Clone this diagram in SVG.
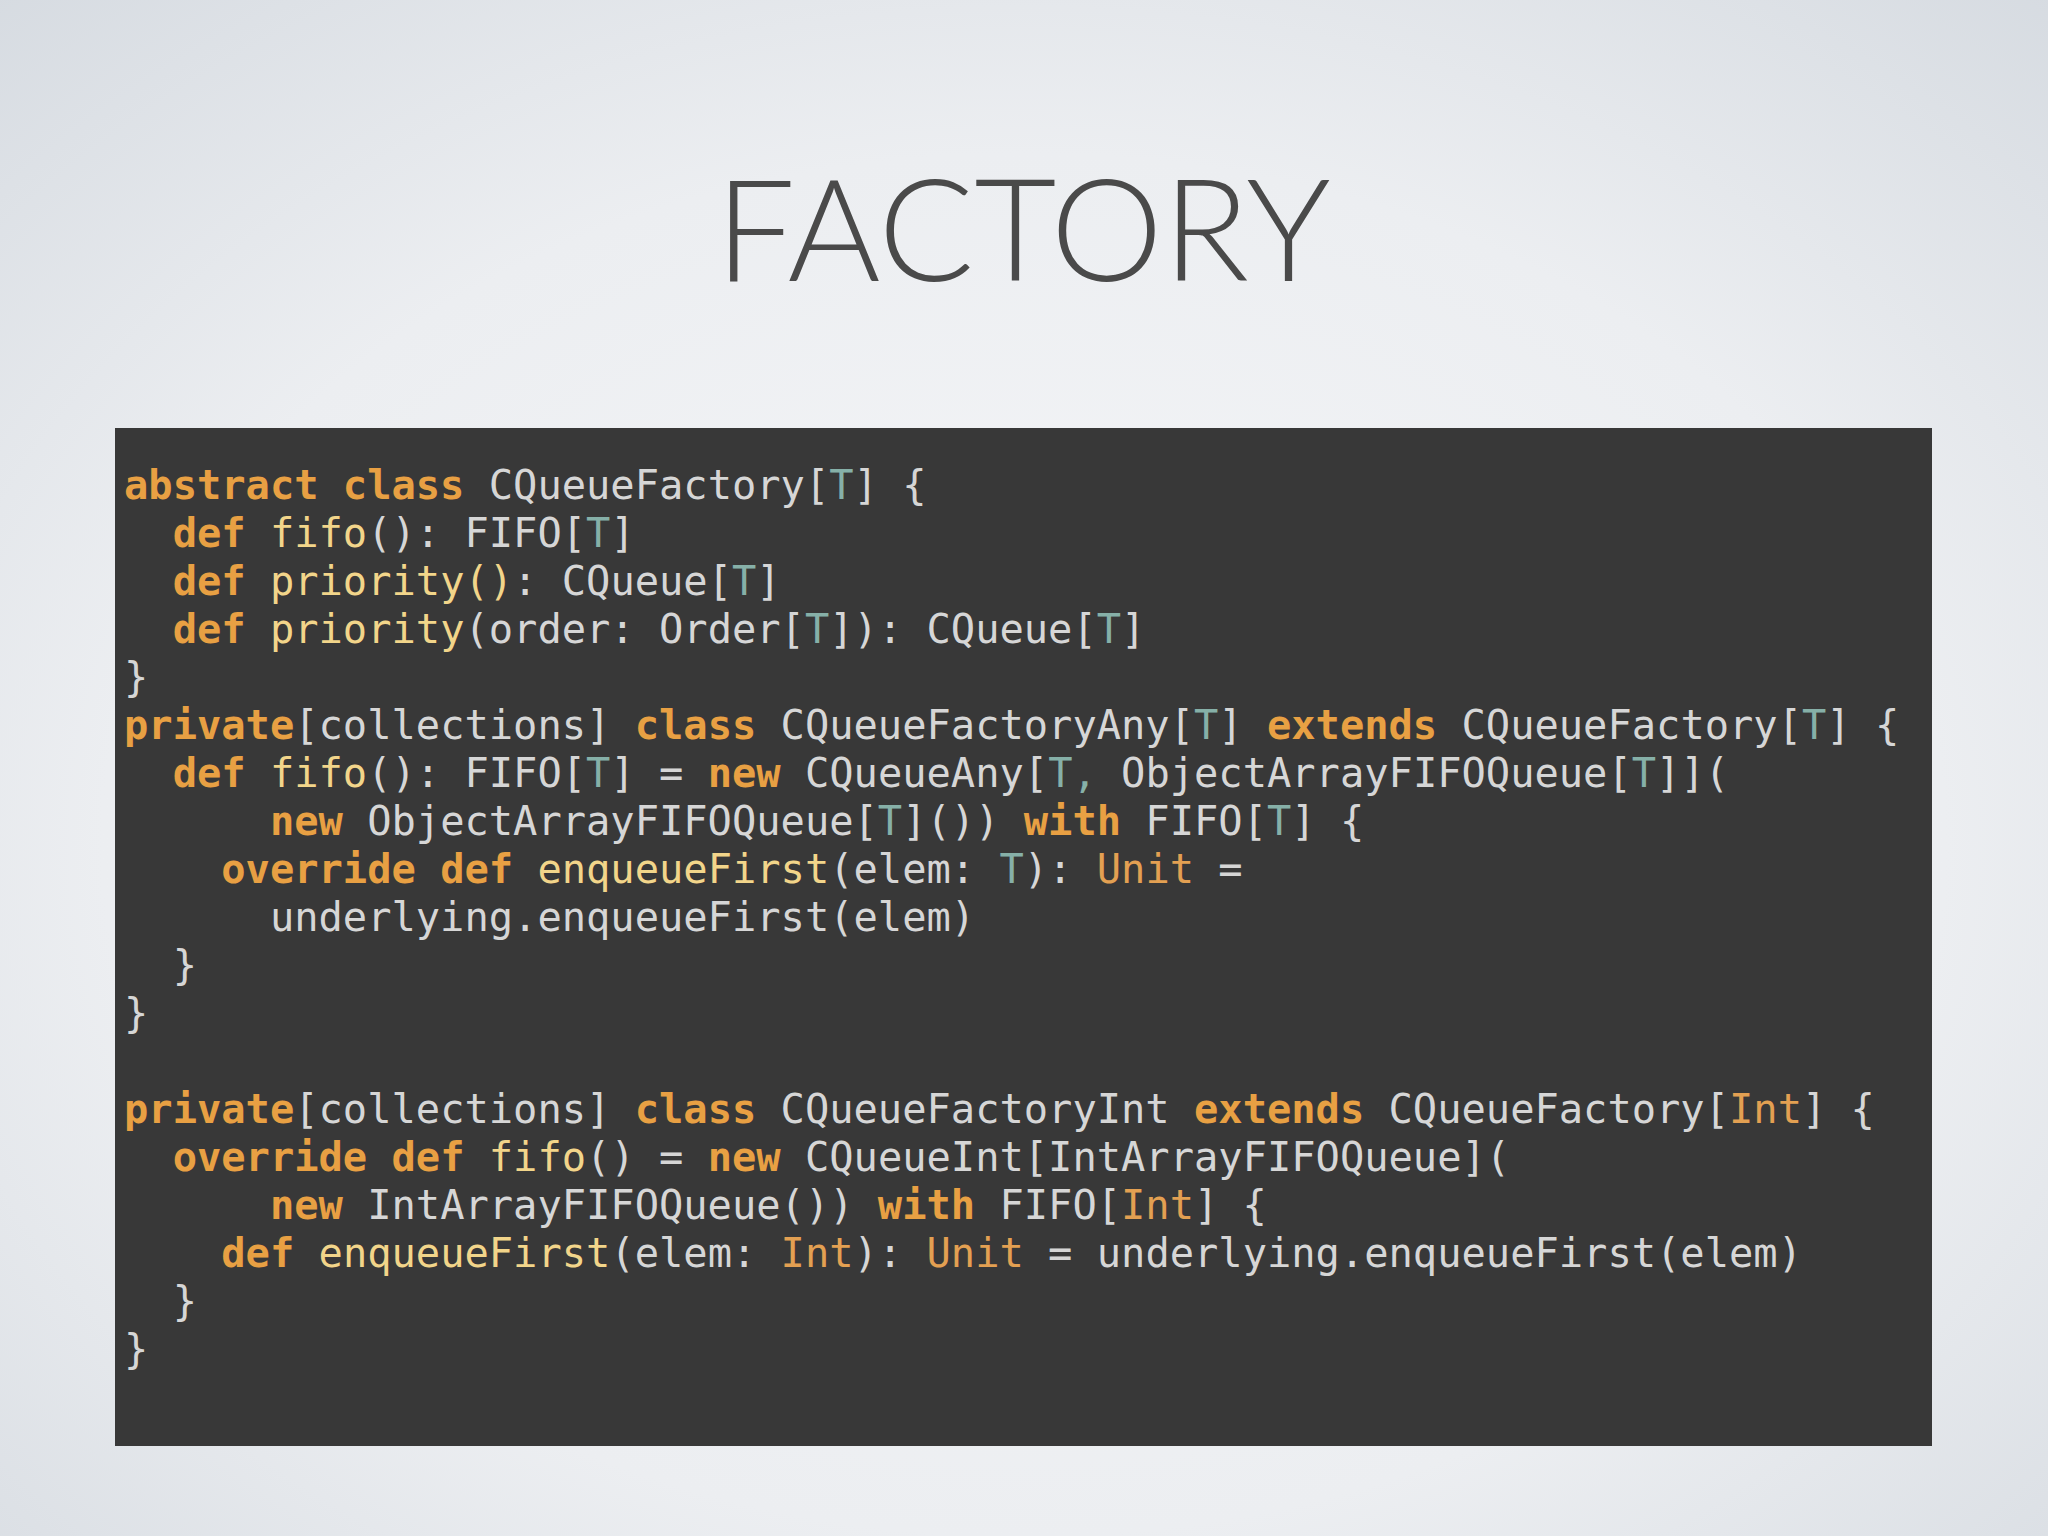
<svg xmlns="http://www.w3.org/2000/svg" width="2048" height="1536" viewBox="0 0 2048 1536">
<defs>
<radialGradient id="bg" cx="0.5" cy="0.55" r="0.75">
<stop offset="0" stop-color="#f6f7f9"/><stop offset="0.6" stop-color="#eceef1"/><stop offset="1" stop-color="#d6dbe1"/>
</radialGradient>
<style>
.c{font-family:"DejaVu Sans Mono",monospace;font-size:40.4px;fill:#d6d6d6;white-space:pre}
.k{fill:#e8a043;font-weight:bold}
.f{fill:#f2d58a}
.t{fill:#86b0a8}
.u{fill:#e3a052}
</style>
</defs>
<rect width="2048" height="1536" fill="url(#bg)"/>
<text x="1023" y="281" text-anchor="middle" font-family="Lato, 'Open Sans', sans-serif" font-weight="300" font-size="142" fill="#4a4a4a">FACTORY</text>
<g id="code">
<rect x="115" y="428" width="1817" height="1018" fill="#383838"/>
<text class="c" xml:space="preserve">
<tspan x="124" y="499"><tspan class="k">abstract class</tspan> CQueueFactory[<tspan class="t">T</tspan>] {</tspan>
<tspan x="124" y="547">  <tspan class="k">def</tspan> <tspan class="f">fifo</tspan>(): FIFO[<tspan class="t">T</tspan>]</tspan>
<tspan x="124" y="595">  <tspan class="k">def</tspan> <tspan class="f">priority()</tspan>: CQueue[<tspan class="t">T</tspan>]</tspan>
<tspan x="124" y="643">  <tspan class="k">def</tspan> <tspan class="f">priority</tspan>(order: Order[<tspan class="t">T</tspan>]): CQueue[<tspan class="t">T</tspan>]</tspan>
<tspan x="124" y="691">}</tspan>
<tspan x="124" y="739"><tspan class="k">private</tspan>[collections] <tspan class="k">class</tspan> CQueueFactoryAny[<tspan class="t">T</tspan>] <tspan class="k">extends</tspan> CQueueFactory[<tspan class="t">T</tspan>] {</tspan>
<tspan x="124" y="787">  <tspan class="k">def</tspan> <tspan class="f">fifo</tspan>(): FIFO[<tspan class="t">T</tspan>] = <tspan class="k">new</tspan> CQueueAny[<tspan class="t">T,</tspan> ObjectArrayFIFOQueue[<tspan class="t">T</tspan>]](</tspan>
<tspan x="124" y="835">      <tspan class="k">new</tspan> ObjectArrayFIFOQueue[<tspan class="t">T</tspan>]()) <tspan class="k">with</tspan> FIFO[<tspan class="t">T</tspan>] {</tspan>
<tspan x="124" y="883">    <tspan class="k">override def</tspan> <tspan class="f">enqueueFirst</tspan>(elem: <tspan class="t">T</tspan>): <tspan class="u">Unit</tspan> =</tspan>
<tspan x="124" y="931">      underlying.enqueueFirst(elem)</tspan>
<tspan x="124" y="979">  }</tspan>
<tspan x="124" y="1027">}</tspan>
<tspan x="124" y="1123"><tspan class="k">private</tspan>[collections] <tspan class="k">class</tspan> CQueueFactoryInt <tspan class="k">extends</tspan> CQueueFactory[<tspan class="u">Int</tspan>] {</tspan>
<tspan x="124" y="1171">  <tspan class="k">override def</tspan> <tspan class="f">fifo</tspan>() = <tspan class="k">new</tspan> CQueueInt[IntArrayFIFOQueue](</tspan>
<tspan x="124" y="1219">      <tspan class="k">new</tspan> IntArrayFIFOQueue()) <tspan class="k">with</tspan> FIFO[<tspan class="u">Int</tspan>] {</tspan>
<tspan x="124" y="1267">    <tspan class="k">def</tspan> <tspan class="f">enqueueFirst</tspan>(elem: <tspan class="u">Int</tspan>): <tspan class="u">Unit</tspan> = underlying.enqueueFirst(elem)</tspan>
<tspan x="124" y="1315">  }</tspan>
<tspan x="124" y="1363">}</tspan>
</text>
</g>
</svg>
